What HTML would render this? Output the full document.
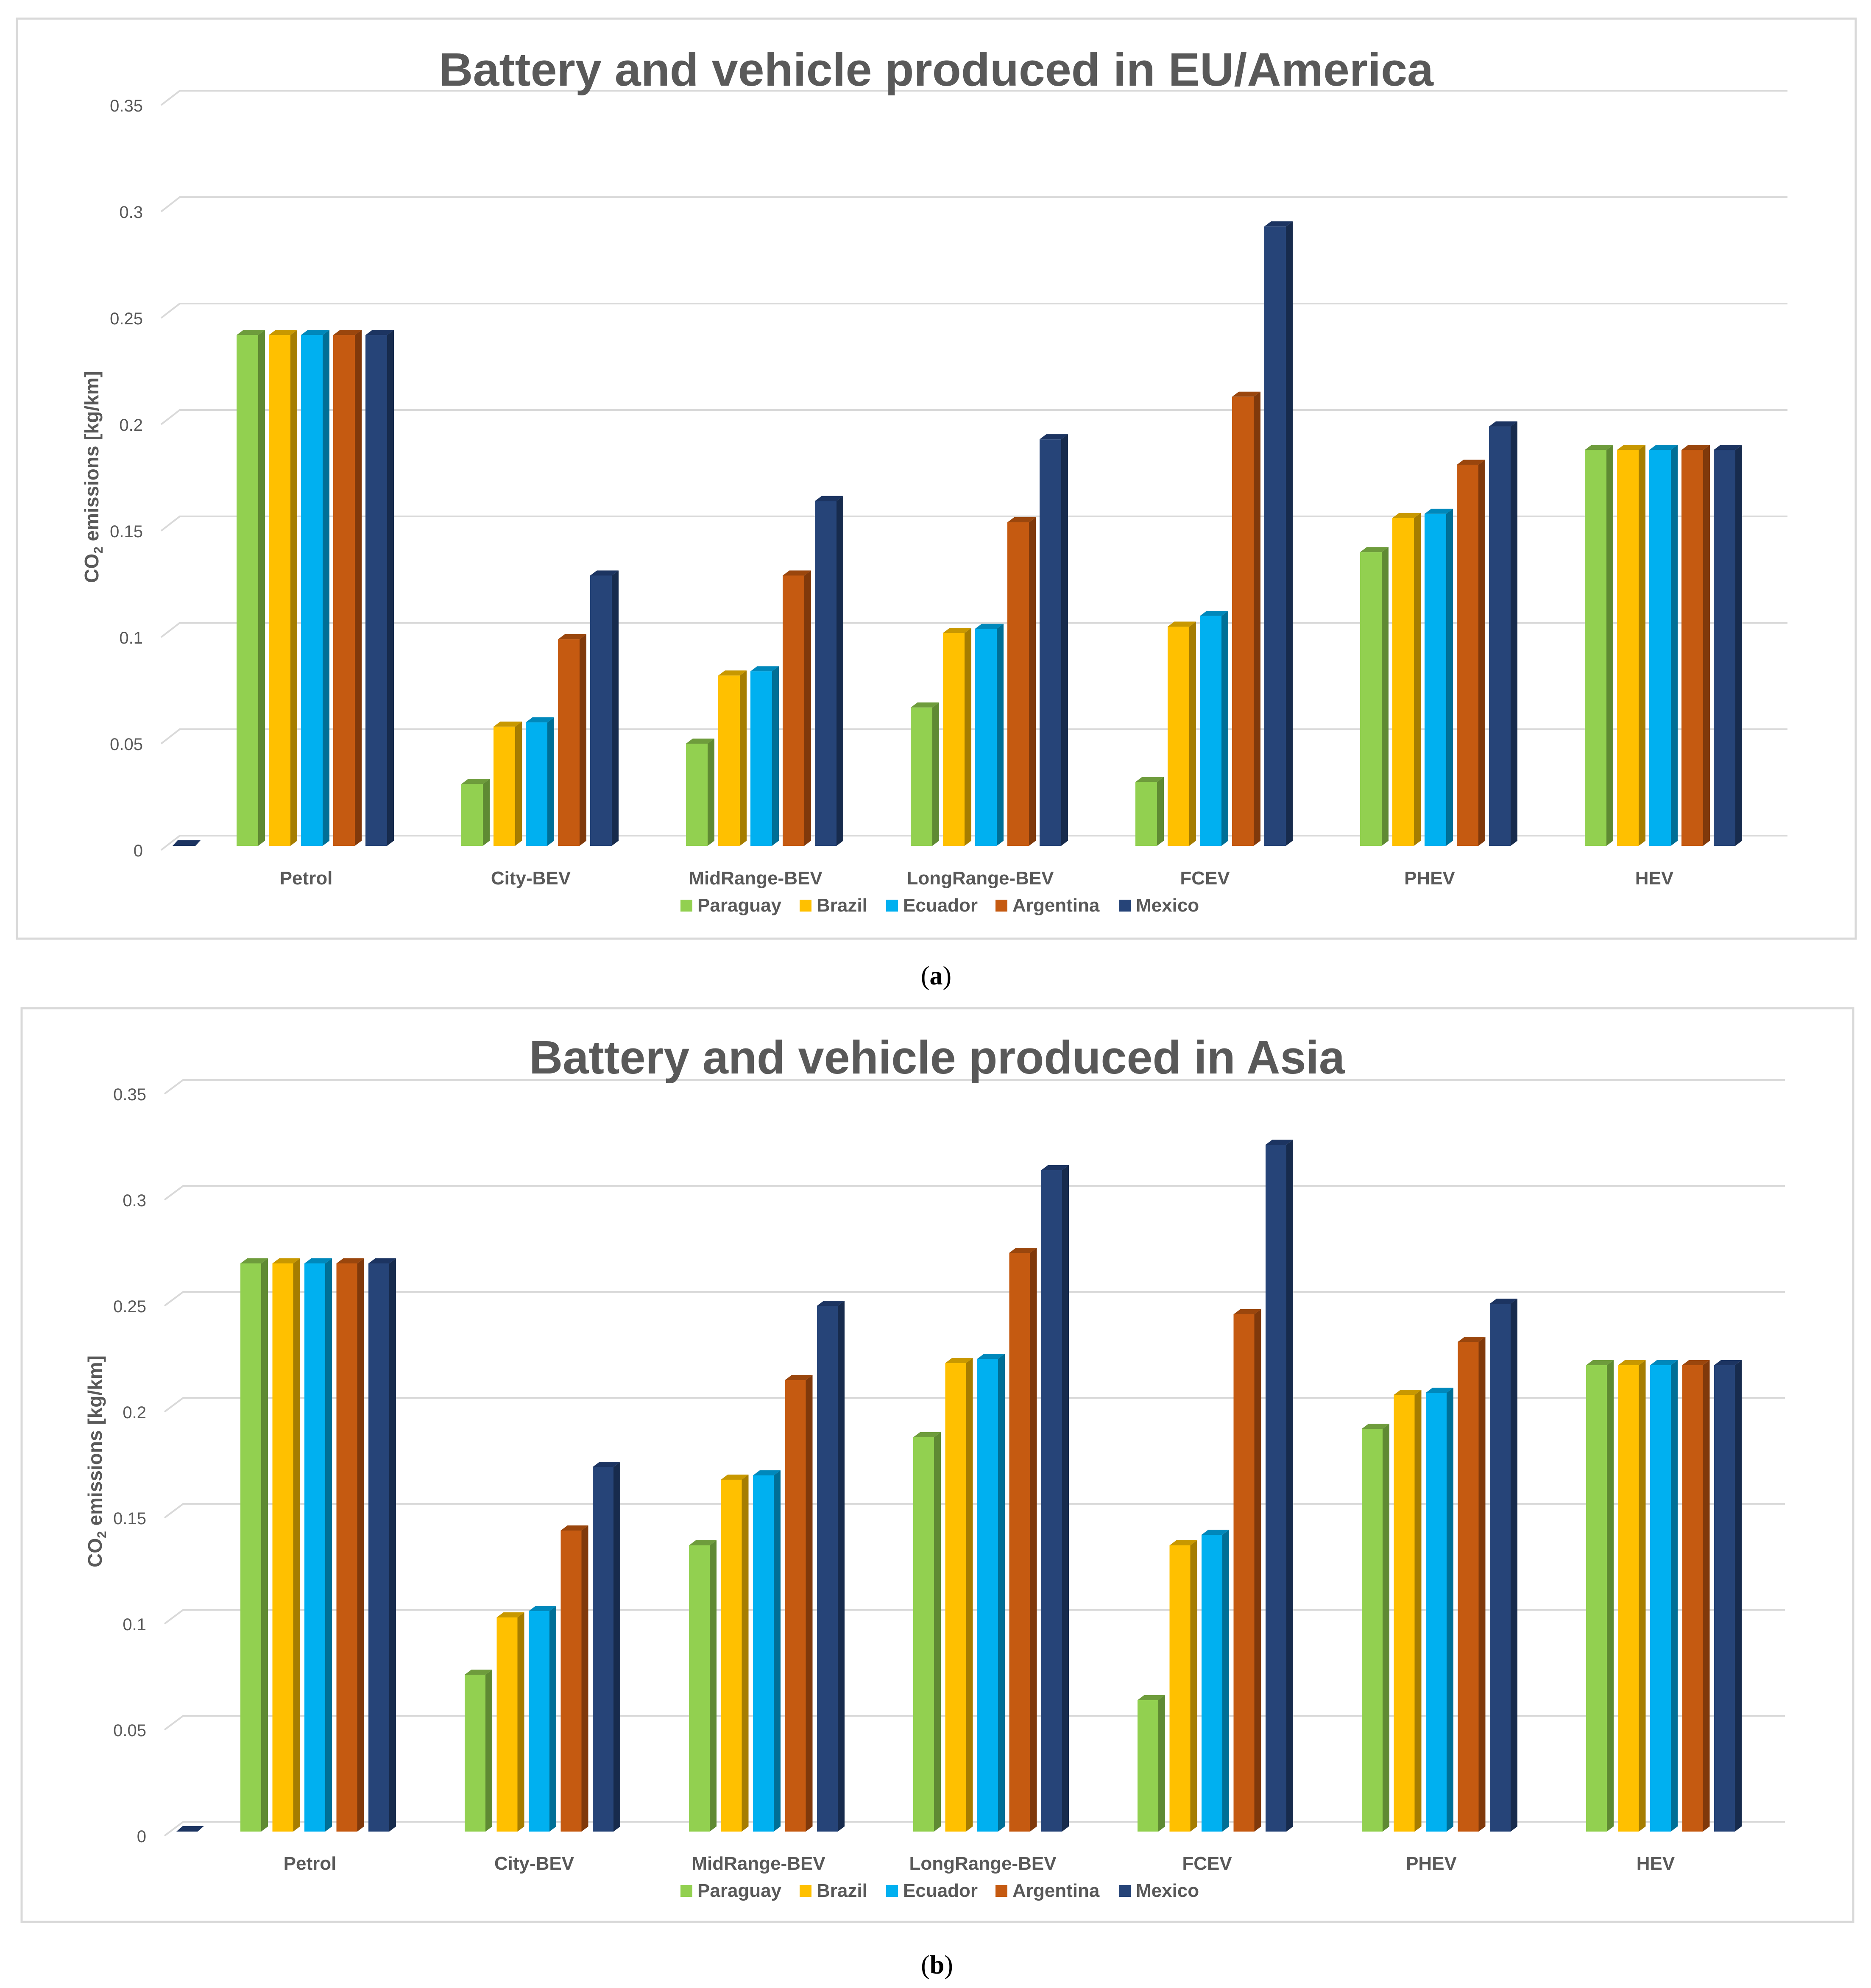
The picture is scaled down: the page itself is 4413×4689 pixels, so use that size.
<!DOCTYPE html>
<html><head><meta charset="utf-8"><title>CO2 emissions charts</title>
<style>
html,body{margin:0;padding:0;background:#fff;}
svg{display:block;}
text{font-family:"Liberation Sans",sans-serif;fill:#595959;}
</style></head>
<body>
<svg id="root" width="4413" height="4689" viewBox="0 0 4413 4689" xmlns="http://www.w3.org/2000/svg">
<rect x="0" y="0" width="4413" height="4689" fill="#fff"/>
<rect x="40" y="44" width="4337" height="2170" fill="#fff" stroke="#d9d9d9" stroke-width="5"/>
<rect x="51" y="2378" width="4320" height="2155" fill="#fff" stroke="#d9d9d9" stroke-width="5"/>
<g id="chartA"></g>
<g id="chartB"></g>
<text x="2208" y="2322" text-anchor="middle" font-family="Liberation Serif" font-size="62" style="font-family:'Liberation Serif',serif;fill:#000">(<tspan font-weight="bold">a</tspan>)</text>
<text x="2210" y="4655" text-anchor="middle" font-size="62" style="font-family:'Liberation Serif',serif;fill:#000">(<tspan font-weight="bold">b</tspan>)</text>
</svg>
<script>
const categories = ["Petrol","City-BEV","MidRange-BEV","LongRange-BEV","FCEV","PHEV","HEV"];
const seriesNames = ["Paraguay","Brazil","Ecuador","Argentina","Mexico"];
const tickValues = [0,0.05,0.1,0.15,0.2,0.25,0.3,0.35];
const tickLabels = ["0","0.05","0.1","0.15","0.2","0.25","0.3","0.35"];
// Chart (a) EU/America
const aParaguay  = [0.240,0.029,0.048,0.065,0.030,0.138,0.186];
const aBrazil    = [0.240,0.056,0.080,0.100,0.103,0.154,0.186];
const aEcuador   = [0.240,0.058,0.082,0.102,0.108,0.156,0.186];
const aArgentina = [0.240,0.097,0.127,0.152,0.211,0.179,0.186];
const aMexico    = [0.240,0.127,0.162,0.191,0.291,0.197,0.186];
// Chart (b) Asia
const bParaguay  = [0.268,0.074,0.135,0.186,0.062,0.190,0.220];
const bBrazil    = [0.268,0.101,0.166,0.221,0.135,0.206,0.220];
const bEcuador   = [0.268,0.104,0.168,0.223,0.140,0.207,0.220];
const bArgentina = [0.268,0.142,0.213,0.273,0.244,0.231,0.220];
const bMexico    = [0.268,0.172,0.248,0.312,0.324,0.249,0.220];

const colors = [
 {f:"#92d050",s:"#5f8a33",t:"#6e9c3c"},
 {f:"#ffc000",s:"#a67d00",t:"#c89800"},
 {f:"#00b0f0",s:"#006f96",t:"#0088bb"},
 {f:"#c55a11",s:"#80390b",t:"#9a460d"},
 {f:"#264478",s:"#172b4d",t:"#1c3461"}
];
const NS="http://www.w3.org/2000/svg";
function mk(tag,attrs,parent){const e=document.createElementNS(NS,tag);for(const k in attrs)e.setAttribute(k,attrs[k]);parent.appendChild(e);return e;}

function draw(g,cfg,series,key){
  const yBack=v=>cfg.zeroBack - v*cfg.scale;
  const yFront=v=>cfg.base - v*cfg.scale;
  // gridlines
  tickValues.forEach((t,i)=>{
    const yb=yBack(t);
    const l=mk("polyline",{points:`${cfg.frontX},${yb+cfg.dy} ${cfg.backX},${yb} ${cfg.rightX},${yb}`,fill:"none",stroke:"#d9d9d9","stroke-width":4},g);
    
    
    const tx=mk("text",{x:cfg.frontX-43,y:yb+cfg.dy+2,"text-anchor":"end","dominant-baseline":"central","font-size":40},g);
    tx.textContent=tickLabels[i];
    
    
  });
  // stray zero marker
  const z=mk("polygon",{points:cfg.stray,fill:"#1c3461"},g);
  
  
  // bars
  const w=cfg.barW, d=16, h=12;
  categories.forEach((c,i)=>{
    series.forEach((vals,s)=>{
      const v=vals[i];
      const x=cfg.start+i*cfg.catStep+s*cfg.barStep;
      const top=yFront(v), bot=cfg.base;
      const bg=mk("g",{},g);
      
      
      mk("polygon",{points:`${x+w},${top} ${x+w+d},${top-h} ${x+w+d},${bot-h} ${x+w},${bot}`,fill:colors[s].s},bg);
      mk("polygon",{points:`${x},${top} ${x+d},${top-h} ${x+w+d},${top-h} ${x+w},${top}`,fill:colors[s].t},bg);
      mk("rect",{x:x,y:top,width:w,height:bot-top,fill:colors[s].f},bg);
    });
    const lt=mk("text",{x:cfg.start+i*cfg.catStep+164,y:cfg.catY,"text-anchor":"middle","font-size":44,"font-weight":"bold"},g);
    lt.textContent=c;
    
    
  });
  // title
  const tt=mk("text",{x:cfg.titleX,y:cfg.titleY,"text-anchor":"middle","font-size":110,"font-weight":"bold",textLength:cfg.titleLen,lengthAdjust:"spacingAndGlyphs"},g);
  tt.textContent=cfg.title;
  
  
  // y axis title
  const yt=mk("text",{transform:`translate(${cfg.yTitleX},${cfg.yTitleY}) rotate(-90)`,"text-anchor":"middle","font-size":46,"font-weight":"bold"},g);
  yt.innerHTML='CO<tspan font-size="30" dy="10">2</tspan><tspan dy="-10"> emissions [kg/km]</tspan>';
  
  
  // legend
  const lx=[1605,1886,2090,2348,2639];
  seriesNames.forEach((n,s)=>{
    const lg=mk("g",{},g);
    
    
    mk("rect",{x:lx[s],y:cfg.legY-28,width:28,height:28,fill:colors[s].f},lg);
    const t=mk("text",{x:lx[s]+40,y:cfg.legY,"font-size":44,"font-weight":"bold"},lg);
    t.textContent=n;
  });
}
draw(document.getElementById("chartA"),{
  zeroBack:1971, base:1995, scale:5020, frontX:380, backX:424, dy:34, rightX:4216,
  start:558, catStep:530, barStep:76, barW:51, catY:2086,
  stray:"407,1995 461,1995 473,1982 419,1982",
  title:"Battery and vehicle produced in EU/America", titleX:2208, titleY:202, titleLen:2346,
  yTitleX:232, yTitleY:1125, legY:2150
},[aParaguay,aBrazil,aEcuador,aArgentina,aMexico],"a");
draw(document.getElementById("chartB"),{
  zeroBack:4297, base:4320, scale:5000, frontX:388, backX:432, dy:33, rightX:4210,
  start:567, catStep:529, barStep:75.5, barW:49, catY:4410,
  stray:"416,4320 466,4320 481,4307 431,4307",
  title:"Battery and vehicle produced in Asia", titleX:2210, titleY:2532, titleLen:1924,
  yTitleX:240, yTitleY:3447, legY:4474
},[bParaguay,bBrazil,bEcuador,bArgentina,bMexico],"b");
</script>
</body></html>
